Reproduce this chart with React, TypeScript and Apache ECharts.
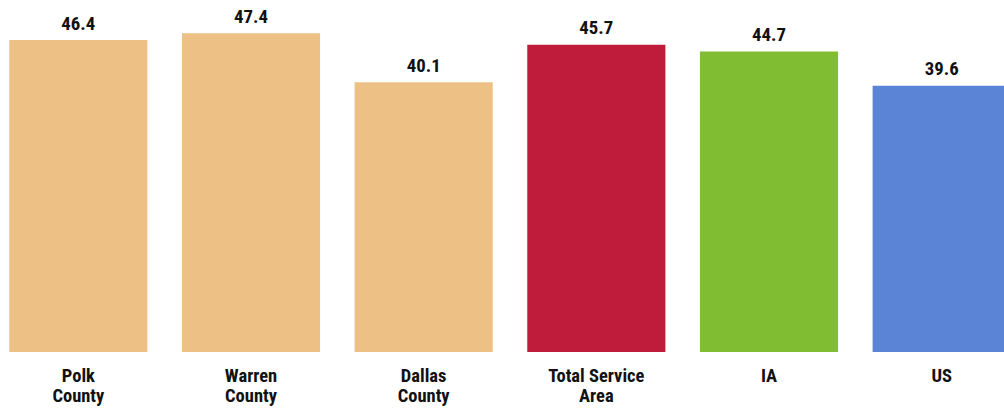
import React, { useEffect, useRef } from "react";
import * as echarts from "echarts";

const categories = ["Polk\nCounty", "Warren\nCounty", "Dallas\nCounty", "Total Service\nArea", "IA", "US"];
const values = [46.4, 47.4, 40.1, 45.7, 44.7, 39.6];
const colors = ["#EDC185", "#EDC185", "#EDC185", "#BE1C3A", "#80BD33", "#5B84D6"];

const FONT = "'Roboto Condensed', 'Liberation Sans Narrow', 'Liberation Sans', sans-serif";

export default function App() {
  const ref = useRef<HTMLDivElement>(null);
  useEffect(() => {
    if (!ref.current) return;
    document.body.style.overflow = "hidden";
    const chart = echarts.init(ref.current, null, { renderer: "svg" });
    chart.setOption({
      animation: false,
      backgroundColor: "#ffffff",
      grid: { left: 0, right: 0, top: 15.8, bottom: 56, containLabel: false },
      xAxis: {
        type: "category",
        data: categories,
        axisLine: { show: false },
        axisTick: { show: false },
        axisLabel: {
          interval: 0,
          margin: 14,
          fontFamily: FONT,
          fontWeight: "bold",
          fontSize: 18.5,
          lineHeight: 20,
          color: "#111111",
        },
      },
      yAxis: {
        type: "value",
        min: 0,
        max: 50,
        show: false,
        splitLine: { show: false },
      },
      series: [
        {
          type: "bar",
          barWidth: "80%",
          data: values.map((v, i) => ({ value: v, itemStyle: { color: colors[i] } })),
          label: {
            show: true,
            position: "top",
            distance: 7,
            fontFamily: FONT,
            fontWeight: "bold",
            fontSize: 18.8,
            color: "#111111",
            formatter: (p: any) => p.value.toFixed(1),
          },
        },
      ],
    });
    return () => chart.dispose();
  }, []);
  return (
    <div
      ref={ref}
      style={{ position: "fixed", left: -8.3, top: 0, width: 1035.6, height: 408 }}
    />
  );
}
